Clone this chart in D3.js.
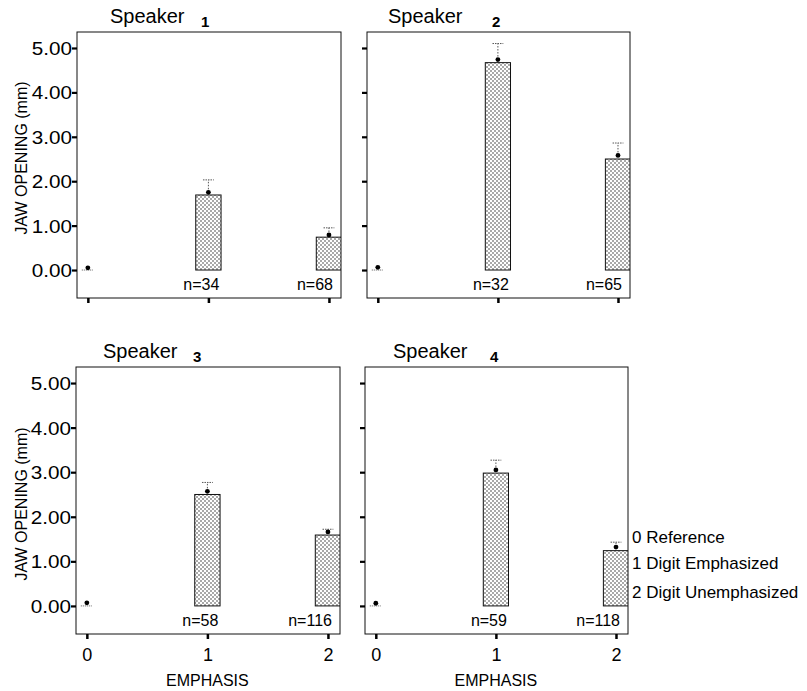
<!DOCTYPE html>
<html>
<head>
<meta charset="utf-8">
<script src="https://cdn.jsdelivr.net/npm/d3@7/dist/d3.min.js"></script>
<style>
  html, body { margin: 0; padding: 0; background: #fff; }
  svg { display: block; font-family: "Liberation Sans", Arial, sans-serif; }
</style>
</head>
<body>
<svg id="chart" width="807" height="691"></svg>
<script>
// ---- data ----
const speakers = ["1", "2", "3", "4"];
const categories = [0, 1, 2];
const xTickLabels = ["0", "1", "2"];
const yTicks = [0, 1, 2, 3, 4, 5];
// bar heights (mm)
const barValues = [
  [0, 1.69, 0.74],
  [0, 4.67, 2.50],
  [0, 2.50, 1.59],
  [0, 2.98, 1.24]
];
// point markers (mm)
const meanValues = [
  [0.05, 1.75, 0.79],
  [0.06, 4.74, 2.58],
  [0.07, 2.57, 1.66],
  [0.06, 3.05, 1.32]
];
// upper error bar (mm)
const upperValues = [
  [null, 2.03, 0.95],
  [null, 5.10, 2.86],
  [null, 2.77, 1.72],
  [null, 3.27, 1.43]
];
const nCounts = [
  [null, 34, 68],
  [null, 32, 65],
  [null, 58, 116],
  [null, 59, 118]
];
const legendLabels = ["0 Reference", "1 Digit Emphasized", "2 Digit Unemphasized"];
const xLabel = "EMPHASIS";
const yLabel = "JAW OPENING (mm)";

// ---- layout ----
const panels = [
  { left: 77,  top: 32,  w: 264, h: 266, titleDx: 33, numDx: 124, row: 0, col: 0 },
  { left: 367, top: 32,  w: 263, h: 266, titleDx: 21, numDx: 125, row: 0, col: 1 },
  { left: 76,  top: 367, w: 264, h: 267, titleDx: 27, numDx: 117, row: 1, col: 0 },
  { left: 365, top: 367, w: 263, h: 267, titleDx: 28, numDx: 125, row: 1, col: 1 }
];
const yLabelCenters = [158, 504];

const svg = d3.select("#chart");
const defs = svg.append("defs");
const pat = defs.append("pattern")
  .attr("id", "dots").attr("patternUnits", "userSpaceOnUse")
  .attr("width", 4).attr("height", 4);
pat.append("rect").attr("width", 4).attr("height", 4).attr("fill", "#fff");
pat.append("circle").attr("cx", 1).attr("cy", 1).attr("r", 0.7).attr("fill", "#111");
pat.append("circle").attr("cx", 3).attr("cy", 3).attr("r", 0.7).attr("fill", "#111");

panels.forEach((p, i) => {
  const x = d3.scaleLinear().domain([-0.09, 2.1]).range([p.left, p.left + p.w]);
  const y = d3.scaleLinear().domain([-0.63, 5.36]).range([p.top + p.h, p.top]);
  const g = svg.append("g");

  defs.append("clipPath").attr("id", "clip" + i)
    .append("rect").attr("x", p.left).attr("y", p.top).attr("width", p.w).attr("height", p.h);

  const plot = g.append("g").attr("clip-path", "url(#clip" + i + ")");

  categories.forEach((c, j) => {
    const bv = barValues[i][j];
    const mv = meanValues[i][j];
    const uv = upperValues[i][j];
    if (bv > 0) {
      plot.append("rect")
        .attr("x", x(c - 0.105)).attr("width", x(c + 0.105) - x(c - 0.105))
        .attr("y", y(bv)).attr("height", y(0) - y(bv))
        .attr("fill", "url(#dots)").attr("stroke", "#111").attr("stroke-width", 1);
    } else {
      plot.append("line")
        .attr("x1", x(c - 0.05)).attr("x2", x(c + 0.04))
        .attr("y1", y(0)).attr("y2", y(0))
        .attr("stroke", "#555").attr("stroke-width", 1).attr("stroke-dasharray", "1,1");
    }
    if (uv != null) {
      plot.append("line")
        .attr("x1", x(c)).attr("x2", x(c)).attr("y1", y(mv)).attr("y2", y(uv))
        .attr("stroke", "#555").attr("stroke-width", 1).attr("stroke-dasharray", "1.5,1.5");
      plot.append("line")
        .attr("x1", x(c - 0.045)).attr("x2", x(c + 0.045)).attr("y1", y(uv)).attr("y2", y(uv))
        .attr("stroke", "#555").attr("stroke-width", 1).attr("stroke-dasharray", "1.5,1");
    }
    plot.append("circle").attr("cx", x(c)).attr("cy", y(mv)).attr("r", 2.4).attr("fill", "#000");

    const n = nCounts[i][j];
    if (n != null) {
      const t = g.append("text")
        .attr("y", y(0) + 20)
        .attr("font-size", 16).attr("fill", "#000")
        .text("n=" + n);
      if (j === categories.length - 1) t.attr("x", x(c) + 4).attr("text-anchor", "end");
      else t.attr("x", x(c) - 7).attr("text-anchor", "middle");
    }
  });

  // frame
  g.append("rect").attr("x", p.left).attr("y", p.top).attr("width", p.w).attr("height", p.h)
    .attr("fill", "none").attr("stroke", "#111").attr("stroke-width", 1);

  // y axis
  const yAxis = d3.axisLeft(y).tickValues(yTicks).tickSize(5).tickSizeOuter(0)
    .tickFormat(p.col === 0 ? d3.format(".2f") : () => "");
  const ya = g.append("g").attr("transform", `translate(${p.left},0)`).call(yAxis);
  ya.select(".domain").remove();
  ya.selectAll(".tick line").attr("stroke", "#000").attr("stroke-width", 2.2);
  ya.selectAll(".tick text")
    .attr("x", null).attr("dy", null)
    .attr("font-family", "Liberation Sans, Arial, sans-serif")
    .attr("font-size", 18).attr("fill", "#000")
    .attr("transform", "translate(-5,6.5) scale(1.15,1)");

  // x axis
  const xAxis = d3.axisBottom(x).tickValues(categories).tickSize(5).tickSizeOuter(0)
    .tickFormat(p.row === 1 ? (d, k) => xTickLabels[k] : () => "");
  const xa = g.append("g").attr("transform", `translate(0,${p.top + p.h})`).call(xAxis);
  xa.select(".domain").remove();
  xa.selectAll(".tick line").attr("stroke", "#000").attr("stroke-width", 2.5);
  xa.selectAll(".tick text")
    .attr("y", 27).attr("dy", null)
    .attr("font-family", "Liberation Sans, Arial, sans-serif")
    .attr("font-size", 18).attr("fill", "#000");

  if (p.row === 1) {
    g.append("text").attr("x", x(1)).attr("y", p.top + p.h + 52)
      .attr("text-anchor", "middle").attr("font-size", 16).attr("fill", "#000")
      .text(xLabel);
  }
  if (p.col === 0) {
    g.append("text")
      .attr("transform", `translate(27,${yLabelCenters[p.row]}) rotate(-90)`)
      .attr("text-anchor", "middle").attr("font-size", 16).attr("fill", "#000")
      .text(yLabel);
  }

  // title
  g.append("text").attr("x", p.left + p.titleDx).attr("y", p.top - 9)
    .attr("font-size", 20).attr("fill", "#000").text("Speaker");
  g.append("text").attr("x", p.left + p.numDx).attr("y", p.top - 5)
    .attr("font-size", 15).attr("font-weight", "bold").attr("fill", "#000").text(speakers[i]);
});

// legend
const legend = svg.append("g");
legendLabels.forEach((lab, k) => {
  legend.append("text").attr("x", 632).attr("y", [543, 569, 598][k])
    .attr("font-size", 17).attr("fill", "#000").text(lab);
});
</script>
</body>
</html>
